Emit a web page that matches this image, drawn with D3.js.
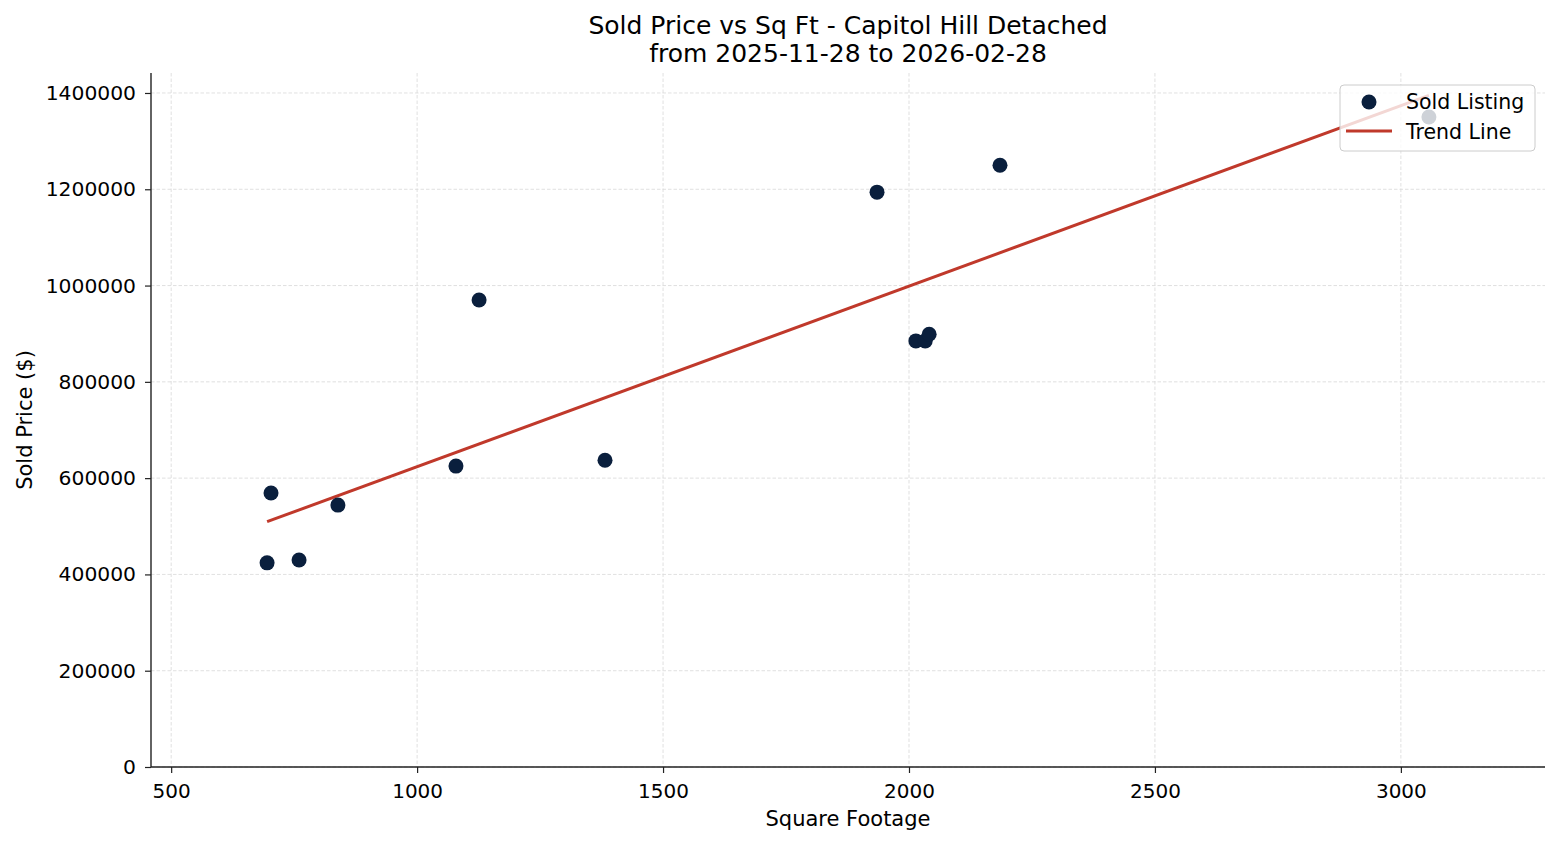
<!DOCTYPE html>
<html>
<head>
<meta charset="utf-8">
<script src="https://cdn.jsdelivr.net/npm/d3@7"></script>
<style>
  body { margin: 0; background: #fff; }
  text { font-family: "DejaVu Sans", sans-serif; fill: #000; }
</style>
</head>
<body>
<svg id="chart" width="1560" height="845"></svg>
<script>
// data
var sqft  = [695, 703, 760, 839, 1079, 1126, 1382, 1935, 2014, 2033, 2041, 2185, 3057];
var price = [424000, 569000, 430000, 544000, 625000, 970000, 637000, 1194000, 885000, 885000, 899000, 1250000, 1350000];
var trendX = [695, 3057];
var trendY = [509500, 1395000];
var xTicks = [500, 1000, 1500, 2000, 2500, 3000];
var yTicks = [0, 200000, 400000, 600000, 800000, 1000000, 1200000, 1400000];

var margin = {left: 151, right: 15, top: 73, bottom: 78};
var width = 1560, height = 845;

var svg = d3.select("#chart");

var x = d3.scaleLinear().domain([459, 3293]).range([margin.left, width - margin.right]);
var y = d3.scaleLinear().domain([0, 1441500]).range([height - margin.bottom, margin.top]);

// grid
var grid = svg.append("g").attr("class", "grid");
grid.selectAll(".gx").data(xTicks).enter().append("line")
  .attr("x1", function(d) { return x(d); }).attr("x2", function(d) { return x(d); })
  .attr("y1", margin.top).attr("y2", height - margin.bottom)
  .style("stroke", "#d8d8d8").style("stroke-width", 0.8).style("stroke-dasharray", "3.5,2");
grid.selectAll(".gy").data(yTicks).enter().append("line")
  .attr("y1", function(d) { return y(d); }).attr("y2", function(d) { return y(d); })
  .attr("x1", margin.left).attr("x2", width - margin.right)
  .style("stroke", "#d8d8d8").style("stroke-width", 0.8).style("stroke-dasharray", "3.5,2");

// axes
var xAxis = d3.axisBottom(x).tickValues(xTicks).tickSize(6).tickPadding(11).tickFormat(d3.format("d"));
var yAxis = d3.axisLeft(y).tickValues(yTicks).tickSize(6).tickPadding(9).tickFormat(d3.format("d"));

var gx = svg.append("g").attr("transform", "translate(0," + (height - margin.bottom) + ")").call(xAxis);
var gy = svg.append("g").attr("transform", "translate(" + margin.left + ",0)").call(yAxis);
gx.selectAll("text").style("font-size", "20px");
gy.selectAll("text").style("font-size", "20.3px");
[gx, gy].forEach(function(g) {
  g.selectAll("text").style("fill", "#000");
  g.selectAll("line").style("stroke", "#222").style("stroke-width", 1.2);
  g.select(".domain").style("stroke", "#222").style("stroke-width", 1.4);
});
gx.select(".domain").attr("d", "M" + margin.left + ",0H" + (width - margin.right));
gy.select(".domain").attr("d", "M0," + margin.top + "V" + (height - margin.bottom));

// trend line
svg.append("line")
  .attr("x1", x(trendX[0])).attr("y1", y(trendY[0]))
  .attr("x2", x(trendX[1])).attr("y2", y(trendY[1]))
  .style("stroke", "#c0392b").style("stroke-width", 3);

// points
svg.selectAll("circle.pt").data(sqft).enter().append("circle")
  .attr("class", "pt")
  .attr("cx", function(d) { return x(d); })
  .attr("cy", function(d, i) { return y(price[i]); })
  .attr("r", 7.5)
  .style("fill", "#0a1f3d");

// titles
svg.append("text").attr("x", 848).attr("y", 34).attr("text-anchor", "middle")
  .style("font-size", "25px").text("Sold Price vs Sq Ft - Capitol Hill Detached");
svg.append("text").attr("x", 848).attr("y", 62).attr("text-anchor", "middle")
  .style("font-size", "25px").text("from 2025-11-28 to 2026-02-28");

svg.append("text").attr("x", 848).attr("y", 826).attr("text-anchor", "middle")
  .style("font-size", "21px").text("Square Footage");
svg.append("text").attr("transform", "translate(32," + ((margin.top + height - margin.bottom) / 2) + ")rotate(-90)")
  .attr("text-anchor", "middle").style("font-size", "21px").text("Sold Price ($)");

// legend
var lg = svg.append("g").attr("transform", "translate(1340,85)");
lg.append("rect").attr("width", 195).attr("height", 66).attr("rx", 4)
  .style("fill", "#fff").style("fill-opacity", 0.8).style("stroke", "#ccc").style("stroke-width", 1);
lg.append("circle").attr("cx", 29).attr("cy", 17).attr("r", 7.5).style("fill", "#0a1f3d");
lg.append("line").attr("x1", 6).attr("x2", 52).attr("y1", 46).attr("y2", 46)
  .style("stroke", "#c0392b").style("stroke-width", 3);
lg.append("text").attr("x", 66).attr("y", 24).style("font-size", "20.5px").text("Sold Listing");
lg.append("text").attr("x", 66).attr("y", 54).style("font-size", "20.5px").text("Trend Line");
</script>
</body>
</html>
